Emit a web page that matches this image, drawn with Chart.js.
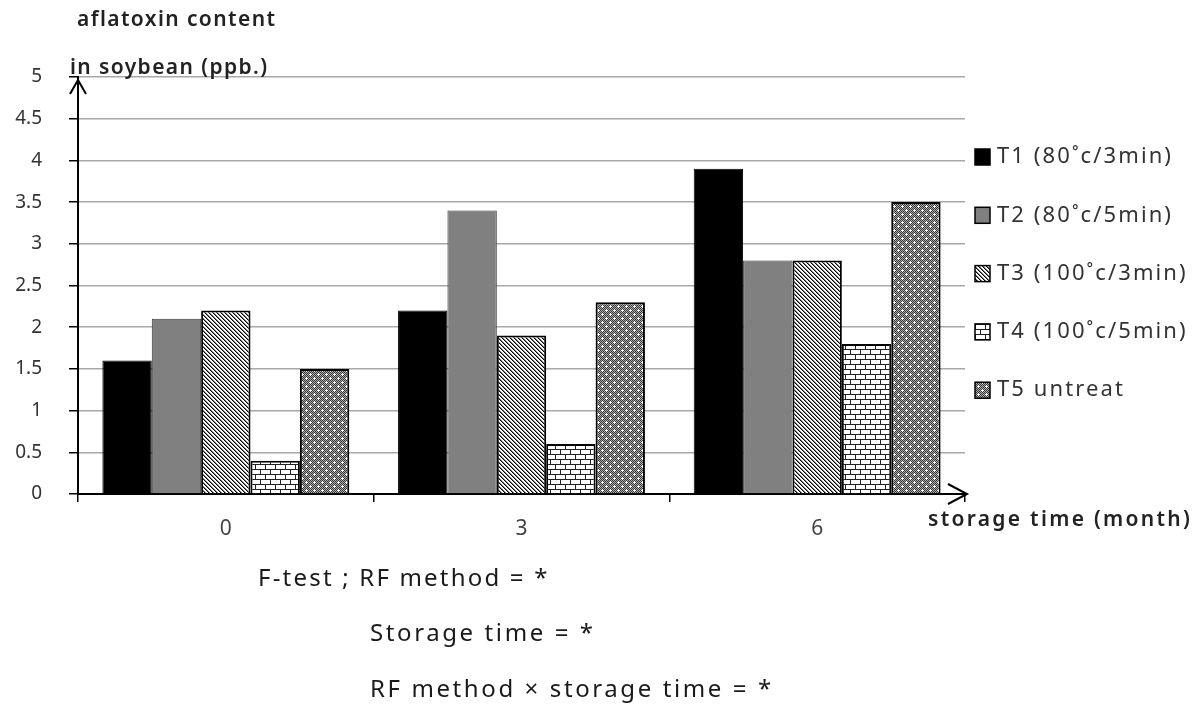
<!DOCTYPE html>
<html>
<head>
<meta charset="utf-8">
<script src="https://cdn.jsdelivr.net/npm/chart.js@4/dist/chart.umd.min.js"></script>
<style>
  body { margin: 0; background: #fff; }
  #wrap { position: relative; width: 1192px; height: 708px; }
  #myChart { position: absolute; left: 0; top: 0; }
  .note { position: absolute; font-family: "Noto Sans", sans-serif; font-size: 24px; line-height: 30px; letter-spacing: 2.6px; color: #1a1a1a; white-space: nowrap; }
</style>
</head>
<body>
<div id="wrap">
  <canvas id="myChart" width="1192" height="708"></canvas>
  <div class="note" style="left:258px; top:562px; letter-spacing:2.2px;">F-test ; RF method = *</div>
  <div class="note" style="left:370px; top:617px;">Storage time = *</div>
  <div class="note" style="left:370px; top:673px;">RF method × storage time = *</div>
</div>
<script>
const months = ["0", "3", "6"];
const treatments = ["T1 (80˚c/3min)", "T2 (80˚c/5min)", "T3 (100˚c/3min)", "T4 (100˚c/5min)", "T5 untreat"];
const t1 = [1.6, 2.2, 3.9];
const t2 = [2.1, 3.4, 2.8];
const t3 = [2.2, 1.9, 2.8];
const t4 = [0.4, 0.6, 1.8];
const t5 = [1.5, 2.3, 3.5];
const yTicks = [0, 0.5, 1, 1.5, 2, 2.5, 3, 3.5, 4, 4.5, 5];

// fill patterns
function makePattern(w, h, draw) {
  const c = document.createElement("canvas");
  c.width = w;
  c.height = h;
  const g = c.getContext("2d");
  draw(g);
  return g.createPattern(c, "repeat");
}

const stripes = makePattern(4, 4, g => {
  g.fillStyle = "#fff";
  g.fillRect(0, 0, 4, 4);
  for (let i = 0; i < 4; i++) {
    g.fillStyle = "#000";
    g.fillRect(i, i, 1, 1);
    g.fillStyle = "#777";
    g.fillRect((i + 1) % 4, i, 1, 1);
  }
});

const bricks = makePattern(10, 10, g => {
  g.fillStyle = "#fff";
  g.fillRect(0, 0, 10, 10);
  g.fillStyle = "#222";
  g.fillRect(0, 4, 10, 1);
  g.fillRect(0, 9, 10, 1);
  g.fillRect(0, 0, 1, 4);
  g.fillRect(5, 5, 1, 4);
});

const dots = makePattern(8, 8, g => {
  for (let x = 0; x < 8; x++) {
    for (let y = 0; y < 8; y++) {
      g.fillStyle = (x + y) % 2 === 0 ? "#333" : "#b0b0b0";
      g.fillRect(x, y, 1, 1);
    }
  }
  g.fillStyle = "#fff";
  [[2, 2], [6, 6]].forEach(p => {
    g.fillRect(p[0], p[1] - 1, 1, 3);
    g.fillRect(p[0] - 1, p[1], 3, 1);
  });
});

const fills = ["#000", "#808080", stripes, bricks, dots];
const borders = ["#000", "#3a3a3a", "#000", "#000", "#000"];
const borderW = [1, 1, 2, 2, 2];
const seriesValues = [t1, t2, t3, t4, t5];

const datasets = treatments.map((name, i) => ({
  label: name,
  data: seriesValues[i],
  backgroundColor: fills[i],
  borderColor: borders[i],
  borderWidth: borderW[i],
  categoryPercentage: 0.835,
  barPercentage: 1.0,
}));

const extras = {
  id: "extras",
  afterDraw(chart) {
    const ctx = chart.ctx;
    const a = chart.chartArea;
    ctx.save();
    // arrows
    ctx.strokeStyle = "#000";
    ctx.lineWidth = 2;
    ctx.beginPath();
    ctx.moveTo(a.left - 8, a.top + 17);
    ctx.lineTo(a.left, a.top + 3);
    ctx.lineTo(a.left + 8, a.top + 17);
    ctx.moveTo(a.right - 17, a.bottom - 10);
    ctx.lineTo(a.right + 2, a.bottom);
    ctx.lineTo(a.right - 17, a.bottom + 10);
    ctx.stroke();

    // axis titles
    ctx.fillStyle = "#222";
    ctx.font = "600 21px 'Noto Sans'";
    ctx.letterSpacing = "1.4px";
    ctx.textBaseline = "middle";
    ctx.textAlign = "left";
    ctx.fillText("aflatoxin content", 77, 20);
    ctx.fillText("in soybean (ppb.)", 70, 68);
    ctx.letterSpacing = "2.3px";
    ctx.fillText("storage time (month)", 928, 520);

    // legend
    ctx.font = "22px 'Noto Sans'";
    ctx.letterSpacing = "2.1px";
    chart.data.datasets.forEach((ds, i) => {
      const y = 157 + i * 58.3;
      ctx.fillStyle = ds.backgroundColor;
      ctx.fillRect(975, y - 8, 15, 16);
      ctx.strokeStyle = "#000";
      ctx.lineWidth = 1.5;
      ctx.strokeRect(975, y - 8, 15, 16);
      ctx.fillStyle = "#333";
      ctx.fillText(ds.label, 997, y);
    });
    ctx.restore();
  }
};

new Chart("myChart", {
  type: "bar",
  data: { labels: months, datasets: datasets },
  options: {
    responsive: false,
    animation: false,
    layout: { padding: { left: 0, top: 77, right: 227, bottom: 154 } },
    plugins: { legend: { display: false }, tooltip: { enabled: false } },
    scales: {
      x: {
        afterFit(scale) { scale.height = 60; },
        grid: { display: true, drawOnChartArea: false, drawTicks: true, tickLength: 8, color: "#000", lineWidth: 1.5, offset: true },
        border: { color: "#000", width: 2 },
        ticks: { color: "#444", font: { family: "Noto Sans", size: 21 }, padding: 14 },
      },
      y: {
        min: 0,
        max: 5,
        afterFit(scale) { scale.width = 78; },
        afterBuildTicks(scale) { scale.ticks = yTicks.map(v => ({ value: v })); },
        grid: { color: "#a8a8a8", lineWidth: 1.5, drawTicks: true, tickLength: 9, tickColor: "#000" },
        border: { color: "#000", width: 2 },
        ticks: { color: "#333", font: { family: "Noto Sans", size: 19 }, padding: 27, callback: v => String(v) },
      },
    },
  },
  plugins: [extras],
});
</script>
</body>
</html>
